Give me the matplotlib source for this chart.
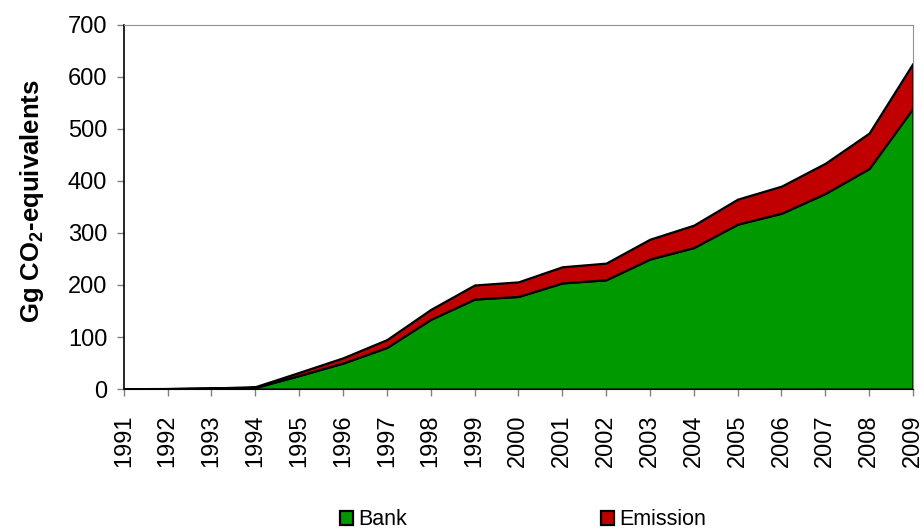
import matplotlib.pyplot as plt

plt.rcParams['font.family'] = ['Liberation Sans', 'DejaVu Sans']
plt.rcParams['mathtext.fontset'] = 'custom'
plt.rcParams['mathtext.rm'] = 'Liberation Sans'
plt.rcParams['mathtext.bf'] = 'Liberation Sans:bold'

# Daten
jahre = list(range(1991, 2010))
bank = [0.5, 0.8, 1.5, 3, 26, 50, 80, 134, 173, 178, 204, 210, 250, 272, 317, 338, 376, 424, 540]
emission = [0.1, 0.2, 0.5, 1.5, 6, 10, 15, 19, 27, 28, 31, 32, 38, 43, 48, 52, 58, 68, 86]
serien = ['Bank', 'Emission']
farben = ['#009900', '#C00000']

fig = plt.figure(figsize=(9.24, 5.30), dpi=100)
ax = fig.add_axes([0.134, 0.266, 0.854, 0.687])

ax.stackplot(jahre, bank, emission, labels=serien, colors=farben,
             edgecolor='black', linewidth=1.6)

ax.set_xlim(jahre[0], jahre[-1])
ax.set_ylim(0, 700)
ax.set_yticks(range(0, 701, 100))
ax.set_xticks(jahre)
ax.set_xticklabels([str(j) for j in jahre], rotation=90)
ax.tick_params(axis='both', labelsize=17, color='#808080', length=5, width=1)
ax.tick_params(axis='y', direction='out', pad=7)
ax.tick_params(axis='x', direction='out', pad=13)

for s in ['top', 'right']:
    ax.spines[s].set_color('#909090')
ax.spines['left'].set_color('black')
ax.spines['bottom'].set_color('black')
ax.spines['left'].set_linewidth(1.2)

ax.set_ylabel(r'Gg CO$_\mathbf{2}$-equivalents', fontsize=18.5, fontweight='bold')
ax.yaxis.set_label_coords(-0.098, 0.515)

fig.legend(loc='center', bbox_to_anchor=(0.566, 0.019), ncol=2, frameon=False,
           fontsize=15.5, columnspacing=9, handlelength=0.6, handleheight=0.6,
           handletextpad=0.25)

plt.savefig('out.png', dpi=100)
